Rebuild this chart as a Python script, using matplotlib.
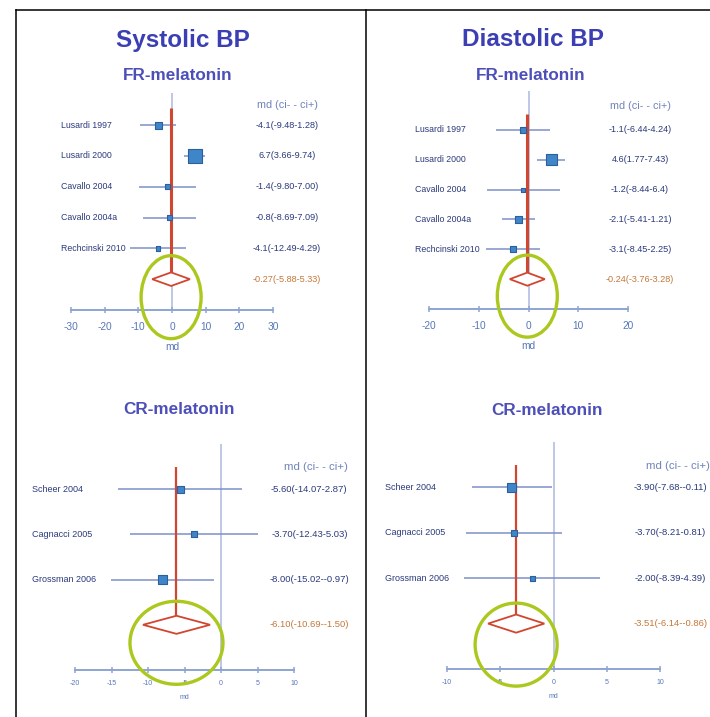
import matplotlib
matplotlib.use('Agg')
import matplotlib.pyplot as plt
from matplotlib.patches import Ellipse, Polygon
from matplotlib.lines import Line2D
from matplotlib.transforms import ScaledTranslation, blended_transform_factory

plt.rcParams['font.family'] = ['Liberation Sans', 'DejaVu Sans']
plt.rcParams['axes.unicode_minus'] = False

W, H = 710, 717

# values kept as printed so the labels and the marks share them
fr_study = ['Lusardi 1997', 'Lusardi 2000', 'Cavallo 2004', 'Cavallo 2004a', 'Rechcinski 2010']
cr_study = ['Scheer 2004', 'Cagnacci 2005', 'Grossman 2006']

# systolic, fast-release melatonin
sbp_fr_md = ['-4.1', '6.7', '-1.4', '-0.8', '-4.1']
sbp_fr_lo = ['-9.48', '3.66', '-9.80', '-8.69', '-12.49']
sbp_fr_hi = ['1.28', '9.74', '7.00', '7.09', '4.29']
sbp_fr_weight = [7, 14, 5, 5, 4.5]
sbp_fr_pooled = ['-0.27', '-5.88', '5.33']

# diastolic, fast-release melatonin
dbp_fr_md = ['-1.1', '4.6', '-1.2', '-2.1', '-3.1']
dbp_fr_lo = ['-6.44', '1.77', '-8.44', '-5.41', '-8.45']
dbp_fr_hi = ['4.24', '7.43', '6.4', '1.21', '2.25']
dbp_fr_weight = [6, 11, 4, 7, 6]
dbp_fr_pooled = ['-0.24', '-3.76', '3.28']

# systolic, controlled-release melatonin
sbp_cr_md = ['-5.60', '-3.70', '-8.00']
sbp_cr_lo = ['-14.07', '-12.43', '-15.02']
sbp_cr_hi = ['2.87', '5.03', '-0.97']
sbp_cr_weight = [7, 6, 8.5]
sbp_cr_pooled = ['-6.10', '-10.69', '-1.50']

# diastolic, controlled-release melatonin
dbp_cr_md = ['-3.90', '-3.70', '-2.00']
dbp_cr_lo = ['-7.68', '-8.21', '-8.39']
dbp_cr_hi = ['-0.11', '0.81', '4.39']
dbp_cr_weight = [9, 6, 5]
dbp_cr_pooled = ['-3.51', '-6.14', '-0.86']

NAVY = '#2b3a7c'
AXIS = '#8ea4d2'
TICK = '#5676b8'
RED = '#d2452f'
GREEN = '#abc81f'
TITLE = '#3c3fb4'

fig = plt.figure(figsize=(W / 100, H / 100), dpi=100)
fig.patch.set_facecolor('white')


def forest(box, xlim, ticks, ytop, study, md, lo, hi, weight, pooled, st):
    x0, y0, x1, y1 = box
    ax = fig.add_axes([x0 / W, 1 - y1 / H, (x1 - x0) / W, (y1 - y0) / H])
    n = len(study)
    ax.set_xlim(xlim)
    ax.set_ylim(n + 1, ytop)
    ax.patch.set_alpha(0)
    for s in ('left', 'right', 'top'):
        ax.spines[s].set_visible(False)
    ax.spines['bottom'].set_color(AXIS)
    ax.spines['bottom'].set_linewidth(1.4)
    ax.set_yticks([])
    ax.set_xticks(ticks)
    ax.tick_params(axis='x', direction='inout', length=5, width=1.1, color=AXIS,
                   labelcolor=TICK, labelsize=st['tick_fs'], pad=st['tick_pad'])
    ax.set_xlabel('md', color=TICK, fontsize=st['tick_fs'], labelpad=st['md_pad'])

    ax.axvline(0, color='#b9c3e2', lw=1.3, zorder=1)

    m = [float(v) for v in md]
    l = [float(v) for v in lo]
    h = [float(v) for v in hi]
    p, pl, ph = [float(v) for v in pooled]
    rows = list(range(n))

    ax.hlines(rows, l, h, color='#7d91c9', lw=1.1, zorder=2)
    ax.plot([p, p], [st['red_top'], n - st['dh']], color=RED, lw=st['red_lw'],
            solid_capstyle='butt', zorder=3)
    ax.scatter(m, rows, marker='s', s=[(w * 0.72) ** 2 for w in weight],
               color='#3f86c8', edgecolor='#2d5f9f', linewidth=0.8, zorder=4)
    ax.add_patch(Polygon([(pl, n), (p, n - st['dh']), (ph, n), (p, n + st['dh'])],
                         closed=True, facecolor='white', edgecolor=RED, lw=1.3, zorder=3))

    tr = blended_transform_factory(ax.transAxes, ax.transData)
    for r, name in enumerate(study):
        ax.text(st['lab_x'], r, name, transform=tr, ha='left', va='center',
                fontsize=st['lab_fs'], color=NAVY)
        ax.text(st['val_x'], r, f'{md[r]}({lo[r]}-{hi[r]})', transform=tr,
                ha='center', va='center', fontsize=st['val_fs'], color=NAVY,
                clip_on=False)
    ax.text(st['val_x'], n, f'{pooled[0]}({pooled[1]}-{pooled[2]})', transform=tr,
            ha='center', va='center', fontsize=st['val_fs'], color='#c4783a')
    ax.text(st['head_x'], st['head_y'], 'md (ci- - ci+)', transform=tr,
            ha='center', va='center', fontsize=st['head_fs'], color='#7084bb')

    # highlight ring round the pooled estimate
    ew, eh, edy = st['ring']
    ring = Ellipse((0, -edy / 100), ew / 100, eh / 100, fill=False,
                   edgecolor=GREEN, lw=2.4, zorder=5,
                   transform=fig.dpi_scale_trans + ScaledTranslation(p, n, ax.transData))
    ring.set_clip_on(False)
    ax.add_patch(ring)
    return ax


top_style = dict(tick_fs=7.3, tick_pad=6, md_pad=7, lab_fs=6.3, val_fs=6.6,
                 head_fs=7.8, red_lw=2.2, dh=0.22)
bot_style = dict(tick_fs=5, tick_pad=5, md_pad=5, lab_fs=6.5, val_fs=6.8,
                 head_fs=8.2, red_lw=1.6, dh=0.2)

forest((71, 93, 273, 310), (-30, 30), range(-30, 31, 10), -1.04,
       fr_study, sbp_fr_md, sbp_fr_lo, sbp_fr_hi, sbp_fr_weight, sbp_fr_pooled,
       dict(top_style, lab_x=-0.05, val_x=1.07, head_x=1.07, head_y=-0.65,
            red_top=-0.55, ring=(60, 83, 18)))

forest((429, 91, 628, 309), (-20, 20), range(-20, 21, 10), -1.3,
       fr_study, dbp_fr_md, dbp_fr_lo, dbp_fr_hi, dbp_fr_weight, dbp_fr_pooled,
       dict(top_style, lab_x=-0.07, val_x=1.06, head_x=1.065, head_y=-0.8,
            red_top=-0.53, ring=(60, 82, 17)))

forest((75, 444, 294, 670), (-20, 10), range(-20, 11, 5), -1.0,
       cr_study, sbp_cr_md, sbp_cr_lo, sbp_cr_hi, sbp_cr_weight, sbp_cr_pooled,
       dict(bot_style, lab_x=-0.195, val_x=1.07, head_x=1.1, head_y=-0.49,
            red_top=-0.49, ring=(93, 83, 18)))

forest((447, 442, 660, 669), (-10, 10), range(-10, 11, 5), -1.0,
       cr_study, dbp_cr_md, dbp_cr_lo, dbp_cr_hi, dbp_cr_weight, dbp_cr_pooled,
       dict(bot_style, lab_x=-0.29, val_x=1.05, head_x=1.083, head_y=-0.48,
            red_top=-0.5, ring=(82, 83, 21)))

# headings
fig.text(183 / W, 1 - 40 / H, 'Systolic BP', ha='center', va='center',
         fontsize=17.5, fontweight='bold', color=TITLE)
fig.text(533 / W, 1 - 40 / H, 'Diastolic BP', ha='center', va='center',
         fontsize=17.5, fontweight='bold', color=TITLE)
for x, y, s in [(178, 75, 'FR-melatonin'), (531, 76, 'FR-melatonin'),
                (179, 409, 'CR-melatonin'), (547, 410, 'CR-melatonin')]:
    fig.text(x / W, 1 - y / H, s, ha='center', va='center', fontsize=12.3,
             fontweight='bold', color='#4d4fb8')

# panel frames
for xs, ys in [([16, 710], [10, 10]), ([16, 16], [10, 717]), ([366, 366], [10, 717])]:
    fig.add_artist(Line2D([x / W for x in xs], [1 - y / H for y in ys],
                          transform=fig.transFigure, color='black', lw=1.1))

fig.savefig('out.png', dpi=100)
